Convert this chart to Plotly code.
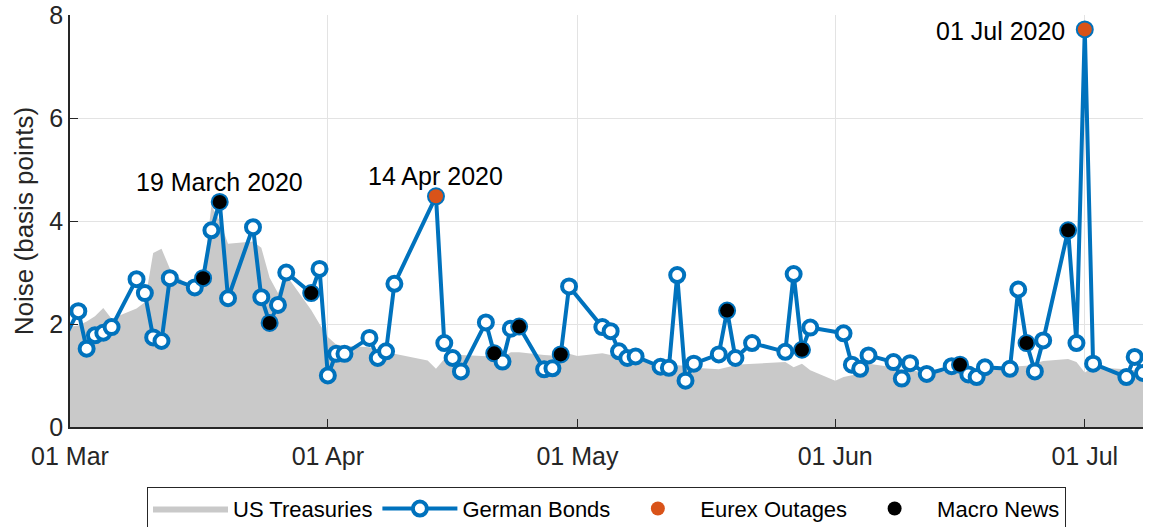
import pandas as pd
import plotly.graph_objects as go

# ---------------- data ----------------
de_dates = ["2020-02-28",
    "2020-03-02", "2020-03-03", "2020-03-04", "2020-03-05", "2020-03-06",
    "2020-03-09", "2020-03-10", "2020-03-11", "2020-03-12", "2020-03-13",
    "2020-03-16", "2020-03-17", "2020-03-18", "2020-03-19", "2020-03-20",
    "2020-03-23", "2020-03-24", "2020-03-25", "2020-03-26", "2020-03-27",
    "2020-03-30", "2020-03-31",
    "2020-04-01", "2020-04-02", "2020-04-03",
    "2020-04-06", "2020-04-07", "2020-04-08", "2020-04-09",
    "2020-04-14", "2020-04-15", "2020-04-16", "2020-04-17",
    "2020-04-20", "2020-04-21", "2020-04-22", "2020-04-23", "2020-04-24",
    "2020-04-27", "2020-04-28", "2020-04-29", "2020-04-30",
    "2020-05-04", "2020-05-05", "2020-05-06", "2020-05-07", "2020-05-08",
    "2020-05-11", "2020-05-12", "2020-05-13", "2020-05-14", "2020-05-15",
    "2020-05-18", "2020-05-19", "2020-05-20", "2020-05-22",
    "2020-05-26", "2020-05-27", "2020-05-28", "2020-05-29",
    "2020-06-02", "2020-06-03", "2020-06-04", "2020-06-05",
    "2020-06-08", "2020-06-09", "2020-06-10", "2020-06-12",
    "2020-06-15", "2020-06-16", "2020-06-17", "2020-06-18", "2020-06-19",
    "2020-06-22", "2020-06-23", "2020-06-24", "2020-06-25", "2020-06-26",
    "2020-06-29", "2020-06-30",
    "2020-07-01", "2020-07-02",
    "2020-07-06", "2020-07-07", "2020-07-08"]
de_values = [1.30,
    2.25, 1.52, 1.78, 1.83, 1.94,
    2.87, 2.60, 1.74, 1.67, 2.89,
    2.71, 2.89, 3.82, 4.37, 2.50,
    3.88, 2.52, 2.02, 2.37, 3.00,
    2.60, 3.07,
    1.00, 1.42, 1.42,
    1.73, 1.34, 1.47, 2.78,
    4.48, 1.63, 1.34, 1.08,
    2.03, 1.43, 1.27, 1.91, 1.95,
    1.12, 1.14, 1.41, 2.73,
    1.94, 1.86, 1.47, 1.34, 1.37,
    1.17, 1.15, 2.95, 0.90, 1.23,
    1.41, 2.26, 1.34, 1.63,
    1.46, 2.97, 1.50, 1.93,
    1.82, 1.21, 1.13, 1.39,
    1.26, 0.94, 1.24, 1.03,
    1.18, 1.21, 1.02, 0.97, 1.16,
    1.13, 2.67, 1.63, 1.08, 1.68,
    3.82, 1.63,
    7.72, 1.23,
    0.97, 1.36, 1.05]

us_dates = ["2020-02-28",
    "2020-03-02", "2020-03-03", "2020-03-04", "2020-03-05", "2020-03-06",
    "2020-03-09", "2020-03-10", "2020-03-11", "2020-03-12", "2020-03-13",
    "2020-03-16", "2020-03-17", "2020-03-18", "2020-03-19", "2020-03-20",
    "2020-03-23", "2020-03-24", "2020-03-25", "2020-03-26", "2020-03-27",
    "2020-03-30", "2020-03-31",
    "2020-04-01", "2020-04-02", "2020-04-03",
    "2020-04-06", "2020-04-07", "2020-04-08", "2020-04-09",
    "2020-04-13", "2020-04-14", "2020-04-15", "2020-04-16", "2020-04-17",
    "2020-04-20", "2020-04-21", "2020-04-22", "2020-04-23", "2020-04-24",
    "2020-04-27", "2020-04-28", "2020-04-29", "2020-04-30",
    "2020-05-01", "2020-05-04", "2020-05-05", "2020-05-06", "2020-05-07", "2020-05-08",
    "2020-05-11", "2020-05-12", "2020-05-13", "2020-05-14", "2020-05-15",
    "2020-05-18", "2020-05-19", "2020-05-20", "2020-05-21", "2020-05-22",
    "2020-05-26", "2020-05-27", "2020-05-28", "2020-05-29",
    "2020-06-01", "2020-06-02", "2020-06-03", "2020-06-04", "2020-06-05",
    "2020-06-08", "2020-06-09", "2020-06-10", "2020-06-11", "2020-06-12",
    "2020-06-15", "2020-06-16", "2020-06-17", "2020-06-18", "2020-06-19",
    "2020-06-22", "2020-06-23", "2020-06-24", "2020-06-25", "2020-06-26",
    "2020-06-29", "2020-06-30",
    "2020-07-01", "2020-07-02",
    "2020-07-06", "2020-07-07", "2020-07-08"]
us_values = [1.90,
    1.97, 2.05, 2.15, 2.31, 2.10,
    2.30, 2.42, 3.38, 3.46, 3.08,
    2.60, 2.90, 4.30, 4.00, 3.56,
    3.60, 3.48, 2.90, 2.60, 2.95,
    2.27, 2.00,
    1.75, 1.60, 1.58,
    1.55, 1.50, 1.48, 1.42,
    1.29, 1.13, 1.32, 1.38, 1.40,
    1.38, 1.36, 1.36, 1.45, 1.45,
    1.40, 1.39, 1.41, 1.42,
    1.38, 1.43, 1.40, 1.36, 1.33, 1.29,
    1.25, 1.22, 1.20, 1.19, 1.15,
    1.12, 1.16, 1.20, 1.22, 1.23,
    1.26, 1.16, 1.23, 1.10,
    0.90, 0.97, 1.00, 1.04, 1.23,
    1.16, 1.12, 1.10, 1.08, 1.06,
    1.08, 1.10, 1.10, 1.12, 1.13,
    1.15, 1.18, 1.19, 1.24, 1.28,
    1.32, 1.26,
    1.06, 1.16,
    1.12, 1.10, 1.06]

eurex_dates = ["2020-04-14", "2020-07-01"]
macro_dates = ["2020-03-17", "2020-03-19", "2020-03-25", "2020-03-30",
               "2020-04-21", "2020-04-24", "2020-04-29", "2020-05-19",
               "2020-05-28", "2020-06-16", "2020-06-24", "2020-06-29"]

tick_dates = ["2020-03-01", "2020-04-01", "2020-05-01", "2020-06-01", "2020-07-01"]
tick_labels = ["01 Mar", "01 Apr", "01 May", "01 Jun", "01 Jul"]

notes = [("2020-03-19", 4.75, "19 March 2020", "center", 0),
         ("2020-04-14", 4.88, "14 Apr 2020", "center", 0),
         ("2020-07-01", 7.68, "01 Jul 2020", "right", -18)]

# ---------------- figure ----------------
de = pd.Series(de_values, index=pd.to_datetime(de_dates))
eurex_vals = [de[pd.Timestamp(d)] for d in eurex_dates]
macro_vals = [de[pd.Timestamp(d)] for d in macro_dates]

BLUE = "#0072BD"
ORANGE = "#D95319"
FONT = "Liberation Sans, Arial, sans-serif"
TXT = "#262626"

fig = go.Figure()
fig.add_trace(go.Scatter(x=pd.to_datetime(us_dates), y=us_values, name="US Treasuries",
                         mode="lines", fill="tozeroy", fillcolor="#c9c9c9",
                         line=dict(width=0, color="#c9c9c9")))
fig.add_trace(go.Scatter(x=de.index, y=de.values, name="German Bonds",
                         mode="lines+markers",
                         line=dict(color=BLUE, width=4),
                         marker=dict(size=14, color="white",
                                     line=dict(color=BLUE, width=4))))
fig.add_trace(go.Scatter(x=pd.to_datetime(eurex_dates), y=eurex_vals, name="Eurex Outages",
                         mode="markers", marker=dict(size=14, color=ORANGE)))
fig.add_trace(go.Scatter(x=pd.to_datetime(macro_dates), y=macro_vals, name="Macro News",
                         mode="markers", marker=dict(size=14, color="black")))

for d, yv, t, xa, xs in notes:
    fig.add_annotation(x=pd.Timestamp(d), y=yv, text=t, showarrow=False,
                       xanchor=xa, yanchor="middle", xshift=xs,
                       font=dict(size=25, color="black", family=FONT))

fig.update_layout(
    width=1153, height=527,
    margin=dict(l=70, r=10, t=15, b=100, autoexpand=False),
    plot_bgcolor="white", paper_bgcolor="white",
    font=dict(family=FONT, size=22, color=TXT),
    showlegend=True,
    legend=dict(orientation="h", x=0.5, xanchor="center", y=-0.145, yanchor="top",
                bordercolor=TXT, borderwidth=1, font=dict(size=22, color="black"),
                itemwidth=75, tracegroupgap=0),
)
fig.update_xaxes(range=[pd.Timestamp("2020-03-01"), pd.Timestamp("2020-07-08")],
                 tickvals=pd.to_datetime(tick_dates), ticktext=tick_labels,
                 showgrid=True, gridcolor="#e3e3e3", gridwidth=1,
                 showline=True, linecolor=TXT, linewidth=1.5,
                 ticks="inside", ticklen=8, tickcolor=TXT, automargin=False,
                 ticklabelstandoff=6,
                 tickfont=dict(size=25, color=TXT), zeroline=False)
fig.update_yaxes(range=[0, 8], tickvals=[0, 2, 4, 6, 8],
                 showgrid=True, gridcolor="#e3e3e3", gridwidth=1,
                 showline=True, linecolor=TXT, linewidth=1.5,
                 ticks="inside", ticklen=8, tickcolor=TXT, automargin=False,
                 tickfont=dict(size=25, color=TXT), zeroline=False,
                 title=dict(text="Noise (basis points)", font=dict(size=26, color=TXT), standoff=8))

fig.write_html("out.html", config={"displayModeBar": False},
               post_script="document.body.style.margin='0px';document.body.style.overflow='hidden';")
